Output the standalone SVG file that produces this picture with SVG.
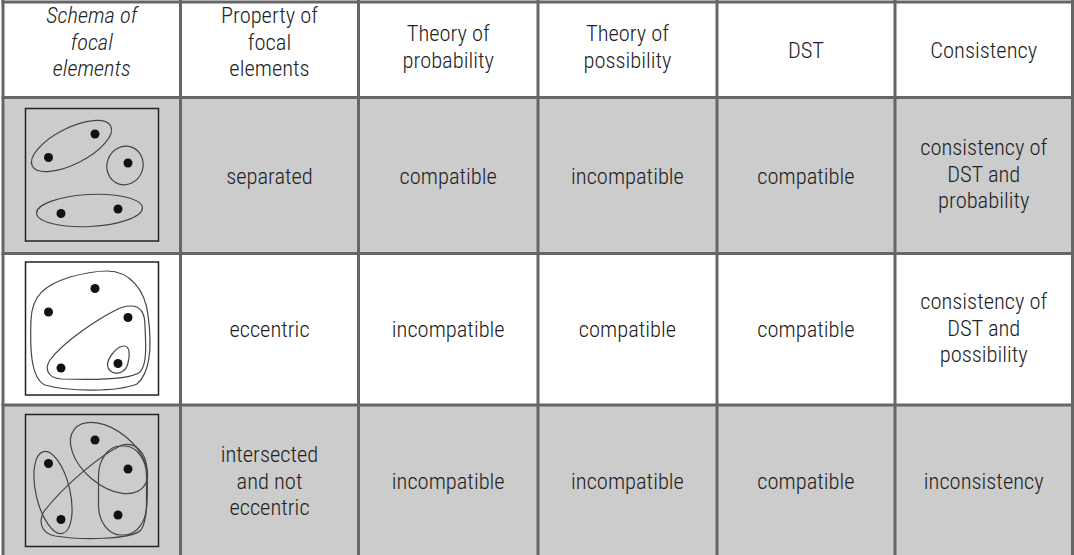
<svg xmlns="http://www.w3.org/2000/svg" width="1074" height="555" viewBox="0 0 1074 555">
<style>
.grid{stroke:#666;stroke-width:3;fill:none}
.g{fill:#cccccc}
.w{fill:#ffffff}
.t{font-family:"Liberation Sans Narrow","Arial Narrow","Roboto Condensed","DejaVu Sans Condensed",sans-serif;font-size:22.5px;font-weight:300;fill:#222;text-anchor:middle}
.it{font-style:italic}
.box{fill:none;stroke:#222;stroke-width:1.5}
.sh{fill:none;stroke:#444;stroke-width:1.2}
.dot{fill:#111}
</style>
<defs>
<g id="dots">
<circle class="dot" cx="95" cy="0" r="4.5"/>
<circle class="dot" cx="48.5" cy="23.5" r="4.5"/>
<circle class="dot" cx="128" cy="29" r="4.5"/>
<circle class="dot" cx="61" cy="79.5" r="4.5"/>
<circle class="dot" cx="118" cy="75" r="4.5"/>
</g>
</defs>
<rect x="0" y="0" width="1074" height="555" fill="#fff"/>
<g id="row-backgrounds">
<rect class="w" x="3" y="2" width="1070" height="95.5"/>
<rect class="g" x="3" y="97.5" width="1070" height="156"/>
<rect class="w" x="3" y="253.5" width="1070" height="151.5"/>
<rect class="g" x="3" y="405" width="1070" height="152"/>
</g>
<g id="h1"><text class="t it"><tspan x="91.75" y="23">Schema of</tspan><tspan x="91.75" y="49.5">focal</tspan><tspan x="91.75" y="76">elements</tspan></text></g>
<g id="h2"><text class="t"><tspan x="269.5" y="23">Property of</tspan><tspan x="269.5" y="49.5">focal</tspan><tspan x="269.5" y="76">elements</tspan></text></g>
<g id="h3"><text class="t"><tspan x="448.25" y="41">Theory of</tspan><tspan x="448.25" y="67.5">probability</tspan></text></g>
<g id="h4"><text class="t"><tspan x="627.5" y="41">Theory of</tspan><tspan x="627.5" y="67.5">possibility</tspan></text></g>
<g id="h5"><text class="t" x="806" y="57.5">DST</text></g>
<g id="h6"><text class="t" x="983.75" y="57.5">Consistency</text></g>
<g id="r1c1">
<rect class="box" x="25.5" y="108.5" width="133" height="132.5"/>
<use href="#dots" y="134"/>
<ellipse class="sh" cx="71.5" cy="146" rx="44" ry="18" transform="rotate(-27 71.5 146)"/>
<ellipse class="sh" cx="125" cy="165.5" rx="18" ry="19.5" transform="rotate(20 125 165.5)"/>
<ellipse class="sh" cx="89.5" cy="210.5" rx="53" ry="16" transform="rotate(-3 89.5 210.5)"/>
</g>
<g id="r1c2"><text class="t" x="269.5" y="183.5">separated</text></g>
<g id="r1c3"><text class="t" x="448.25" y="183.5">compatible</text></g>
<g id="r1c4"><text class="t" x="627.5" y="183.5">incompatible</text></g>
<g id="r1c5"><text class="t" x="806" y="183.5">compatible</text></g>
<g id="r1c6"><text class="t"><tspan x="983.75" y="155">consistency of</tspan><tspan x="983.75" y="181.5">DST and</tspan><tspan x="983.75" y="208">probability</tspan></text></g>
<g id="r2c1">
<rect class="box" x="25.5" y="262" width="133" height="133"/>
<use href="#dots" y="288.5"/>
<path class="sh" d="M107,271 C130,271 145,290 148,315 C152,345 151,372 137,384 C117,392 70,392 45,385 C30,378 30,345 31,320 C32,295 45,285 70,277 C85,273 97,271 107,271 Z"/>
<path class="sh" d="M131,306 C141,306 145,313 145,326 C146,346 147,365 140,372 C130,380 90,380 61,379 C48,378 44,369 50,360 C65,340 100,318 116,310 C121,307 126,306 131,306 Z"/>
<path class="sh" d="M124,346 C130,346 130,355 128,363 C126,372 118,375 112,372 C105,368 107,360 113,353 C117,348 120,346 124,346 Z"/>
</g>
<g id="r2c2"><text class="t" x="269.5" y="337">eccentric</text></g>
<g id="r2c3"><text class="t" x="448.25" y="337">incompatible</text></g>
<g id="r2c4"><text class="t" x="627.5" y="337">compatible</text></g>
<g id="r2c5"><text class="t" x="806" y="337">compatible</text></g>
<g id="r2c6"><text class="t"><tspan x="983.75" y="309">consistency of</tspan><tspan x="983.75" y="335.5">DST and</tspan><tspan x="983.75" y="362">possibility</tspan></text></g>
<g id="r3c1">
<rect class="box" x="25.5" y="414.5" width="133" height="132"/>
<use href="#dots" y="440"/>
<ellipse class="sh" cx="53" cy="492.5" rx="17" ry="42" transform="rotate(-13 53 492.5)"/>
<ellipse class="sh" cx="109" cy="458" rx="45" ry="27" transform="rotate(40 109 458)"/>
<rect class="sh" x="98.5" y="446" width="48" height="89" rx="22" ry="30"/>
<path class="sh" d="M122,445 C136,442 146,452 147,470 C148,495 148,520 141,530 C131,540 80,540 55,536 C40,533 38,520 45,510 C65,485 100,455 122,445 Z"/>
</g>
<g id="r3c2"><text class="t"><tspan x="269.5" y="462">intersected</tspan><tspan x="269.5" y="488.5">and not</tspan><tspan x="269.5" y="515">eccentric</tspan></text></g>
<g id="r3c3"><text class="t" x="448.25" y="489">incompatible</text></g>
<g id="r3c4"><text class="t" x="627.5" y="489">incompatible</text></g>
<g id="r3c5"><text class="t" x="806" y="489">compatible</text></g>
<g id="r3c6"><text class="t" x="983.75" y="489">inconsistency</text></g>
<g id="grid" class="grid">
<line x1="3" y1="0" x2="3" y2="560"/>
<line x1="180.5" y1="0" x2="180.5" y2="560"/>
<line x1="358.5" y1="0" x2="358.5" y2="560"/>
<line x1="538" y1="0" x2="538" y2="560"/>
<line x1="717" y1="0" x2="717" y2="560"/>
<line x1="895" y1="0" x2="895" y2="560"/>
<line x1="1072.5" y1="0" x2="1072.5" y2="560"/>
<line x1="1.5" y1="2" x2="1074" y2="2"/>
<line x1="1.5" y1="97.5" x2="1074" y2="97.5"/>
<line x1="1.5" y1="253.5" x2="1074" y2="253.5"/>
<line x1="1.5" y1="405" x2="1074" y2="405"/>
<line x1="1.5" y1="557" x2="1074" y2="557"/>
</g>
</svg>
